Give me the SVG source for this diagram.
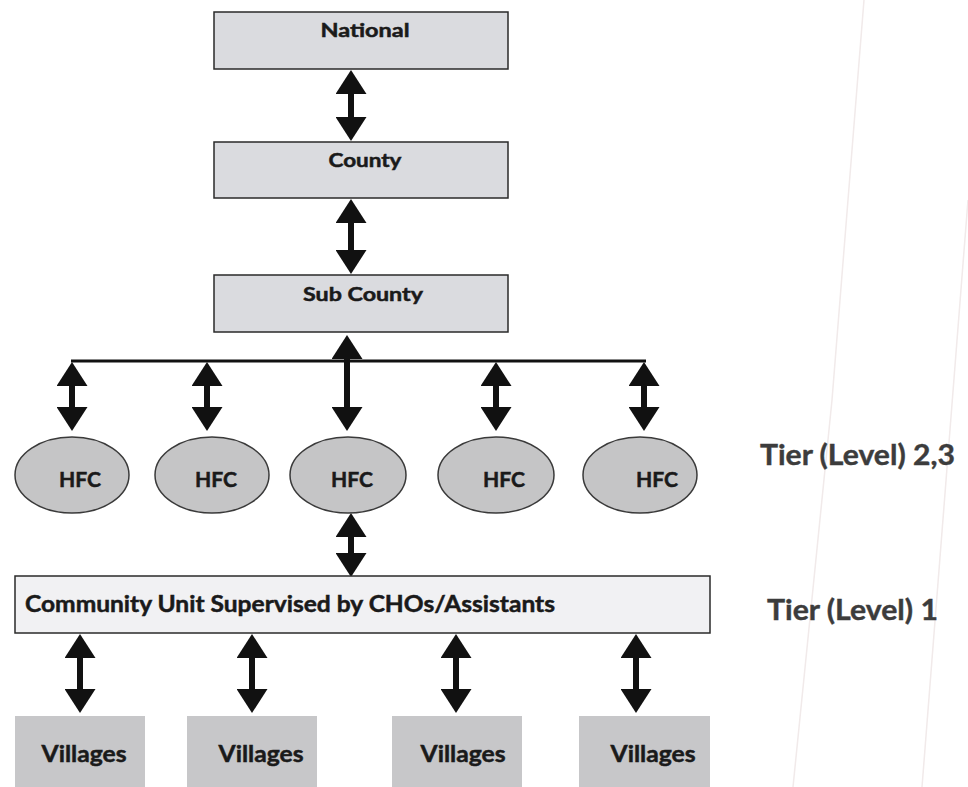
<svg xmlns="http://www.w3.org/2000/svg" width="968" height="787" viewBox="0 0 968 787">
<style>
  .box { fill: #dadbdf; stroke: #2a2a2a; stroke-width: 1.5; }
  .cu { fill: #f1f1f3; stroke: #2a2a2a; stroke-width: 1.5; }
  .vil { fill: #c7c7c9; stroke: none; }
  .hfc { fill: #c5c5c6; stroke: #3a3a3a; stroke-width: 1.5; }
  .t { font-family: Lato, "Liberation Sans", sans-serif; font-weight: bold; fill: #1a1a1a; stroke: #1a1a1a; stroke-width: 0.5; }
  .tier { font-family: Lato, "Liberation Sans", sans-serif; font-weight: bold; fill: #3c3c3c; stroke: #3c3c3c; stroke-width: 0.4; font-size: 28px; }
  .arr { stroke: #111; stroke-width: 6; fill: none; marker-start: url(#head); marker-end: url(#head); }
  .bar { stroke: #111; stroke-width: 3; fill: none; }
  .scan { stroke: #f1eaea; stroke-width: 1.5; fill: none; }
</style>
<defs>
  <marker id="head" viewBox="0 0 24 31" refX="1" refY="15.5" markerWidth="24" markerHeight="31" markerUnits="userSpaceOnUse" orient="auto-start-reverse">
    <path d="M0,0 L24,15.5 L0,31 Z" fill="#111"/>
  </marker>
</defs>
<rect width="968" height="787" fill="#ffffff"/>
<path class="scan" d="M864,0 L832,400 L793,787"/>
<line class="scan" x1="968" y1="200" x2="922" y2="787"/>

<g id="connectors">
  <line class="arr" x1="351" y1="93" x2="351" y2="118"/>
  <line class="arr" x1="351" y1="222" x2="351" y2="251"/>
  <line class="bar" x1="71" y1="361" x2="646" y2="361"/>
  <line class="arr" x1="347" y1="358" x2="347" y2="408"/>
  <line class="arr" x1="72" y1="385" x2="72" y2="408"/>
  <line class="arr" x1="207" y1="385" x2="207" y2="408"/>
  <line class="arr" x1="496" y1="385" x2="496" y2="408"/>
  <line class="arr" x1="644" y1="385" x2="644" y2="408"/>
  <line class="arr" x1="351" y1="536" x2="351" y2="554"/>
  <line class="arr" x1="80" y1="657" x2="80" y2="690"/>
  <line class="arr" x1="252" y1="657" x2="252" y2="690"/>
  <line class="arr" x1="456" y1="657" x2="456" y2="690"/>
  <line class="arr" x1="636" y1="657" x2="636" y2="690"/>
</g>

<g id="national">
  <rect class="box" x="214" y="12" width="294" height="57"/>
  <text class="t" x="365" y="37" font-size="19" text-anchor="middle" textLength="89" lengthAdjust="spacingAndGlyphs">National</text>
</g>
<g id="county">
  <rect class="box" x="214" y="142" width="294" height="56"/>
  <text class="t" x="365" y="167" font-size="19" text-anchor="middle" textLength="73" lengthAdjust="spacingAndGlyphs">County</text>
</g>
<g id="subcounty">
  <rect class="box" x="214" y="275" width="294" height="57"/>
  <text class="t" x="363" y="301" font-size="19" text-anchor="middle" textLength="120" lengthAdjust="spacingAndGlyphs">Sub County</text>
</g>

<g id="hfc1">
  <ellipse class="hfc" cx="72" cy="475" rx="57" ry="38"/>
  <text class="t" x="80" y="487" font-size="21" text-anchor="middle" textLength="42" lengthAdjust="spacingAndGlyphs">HFC</text>
</g>
<g id="hfc2">
  <ellipse class="hfc" cx="212" cy="475" rx="57" ry="38"/>
  <text class="t" x="216" y="487" font-size="21" text-anchor="middle" textLength="42" lengthAdjust="spacingAndGlyphs">HFC</text>
</g>
<g id="hfc3">
  <ellipse class="hfc" cx="348" cy="475" rx="58" ry="38"/>
  <text class="t" x="352" y="487" font-size="21" text-anchor="middle" textLength="42" lengthAdjust="spacingAndGlyphs">HFC</text>
</g>
<g id="hfc4">
  <ellipse class="hfc" cx="496" cy="475" rx="58" ry="38"/>
  <text class="t" x="504" y="487" font-size="21" text-anchor="middle" textLength="42" lengthAdjust="spacingAndGlyphs">HFC</text>
</g>
<g id="hfc5">
  <ellipse class="hfc" cx="640" cy="475" rx="57" ry="38"/>
  <text class="t" x="657" y="487" font-size="21" text-anchor="middle" textLength="42" lengthAdjust="spacingAndGlyphs">HFC</text>
</g>

<g id="community-unit">
  <rect class="cu" x="15" y="576" width="695" height="57"/>
  <text class="t" x="25" y="612" font-size="23" textLength="530" lengthAdjust="spacingAndGlyphs">Community Unit Supervised by CHOs/Assistants</text>
</g>

<g id="villages1">
  <rect class="vil" x="15" y="716" width="130" height="71"/>
  <text class="t" x="84" y="762" font-size="23" text-anchor="middle" textLength="85" lengthAdjust="spacingAndGlyphs">Villages</text>
</g>
<g id="villages2">
  <rect class="vil" x="187" y="716" width="130" height="71"/>
  <text class="t" x="261" y="762" font-size="23" text-anchor="middle" textLength="85" lengthAdjust="spacingAndGlyphs">Villages</text>
</g>
<g id="villages3">
  <rect class="vil" x="392" y="716" width="130" height="71"/>
  <text class="t" x="463" y="762" font-size="23" text-anchor="middle" textLength="85" lengthAdjust="spacingAndGlyphs">Villages</text>
</g>
<g id="villages4">
  <rect class="vil" x="579" y="716" width="131" height="71"/>
  <text class="t" x="653" y="762" font-size="23" text-anchor="middle" textLength="85" lengthAdjust="spacingAndGlyphs">Villages</text>
</g>

<g id="tier23">
  <text class="tier" x="760" y="465" textLength="195" lengthAdjust="spacingAndGlyphs">Tier (Level) 2,3</text>
</g>
<g id="tier1">
  <text class="tier" x="767" y="620" textLength="171" lengthAdjust="spacingAndGlyphs">Tier (Level) 1</text>
</g>
</svg>
